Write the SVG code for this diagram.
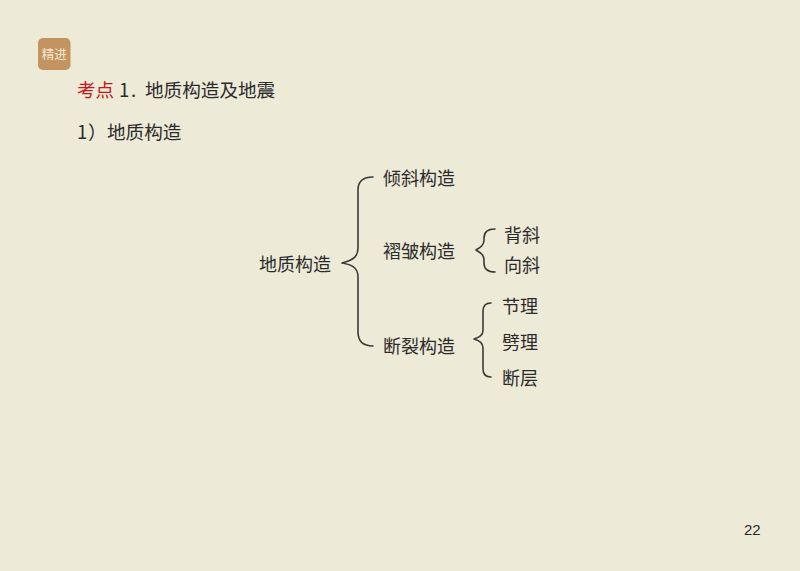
<svg xmlns="http://www.w3.org/2000/svg" width="800" height="571" viewBox="0 0 800 571">
<style>
text{font-family:"Noto Sans CJK SC","Liberation Sans",sans-serif;font-size:18px;fill:#2b2b2b}
.t{font-size:18.600px}
.b{fill:none;stroke:#3a3a36;stroke-width:1.6;stroke-linecap:round;stroke-linejoin:round}
</style>
<rect width="800" height="571" fill="#eeead8"/>
<g id="badge"><rect x="38" y="38" width="32.500" height="32" rx="5" fill="#c3945f"/>
<text x="54.200" y="59" text-anchor="middle" style="font-family:'Noto Sans CJK SC',serif;font-size:12.500px;fill:#f3e6d2">精进</text></g>
<g id="title"><text class="t" x="77" y="97"><tspan style="fill:#c3171c">考点</tspan><tspan x="119">1</tspan><tspan x="131">.</tspan><tspan x="145">地质构造及地震</tspan></text>
<text class="t" x="77" y="139">1</text><text class="t" x="88" y="139">）</text><text class="t" x="107" y="139">地质构造</text></g>
<g id="connectors">
<path class="b" d="M373 177C363 177 358 181 358 190V248C358 256 354 260 342 263C354 265 358 269 358 277V332C358 341 363 346 373 346"/>
<path class="b" d="M495 229C488 229 484 232 484 238V240C484 245 481 247 476 250C481 253 484 255 484 260V263C484 269 488 272 495 272"/>
<path class="b" d="M491 303C485 303 483 306 483 311V330C483 335 480 337 474 339C480 341 483 343 483 348V369C483 374 485 377 491 377"/>
</g>
<g id="n-root"><text x="259" y="271">地质构造</text></g>
<g id="n-qingxie"><text x="383" y="185">倾斜构造</text></g>
<g id="n-zhezhou"><text x="383" y="258">褶皱构造</text></g>
<g id="n-duanlie"><text x="383" y="352.500">断裂构造</text></g>
<g id="n-beixie"><text x="504" y="242">背斜</text></g>
<g id="n-xiangxie"><text x="504" y="272">向斜</text></g>
<g id="n-jieli"><text x="502" y="312.500">节理</text></g>
<g id="n-pili"><text x="502" y="349">劈理</text></g>
<g id="n-duanceng"><text x="502" y="384.500">断层</text></g>
<g id="page"><text x="744" y="535" style="font-family:'Liberation Sans',sans-serif;font-size:15px">22</text></g>
</svg>
